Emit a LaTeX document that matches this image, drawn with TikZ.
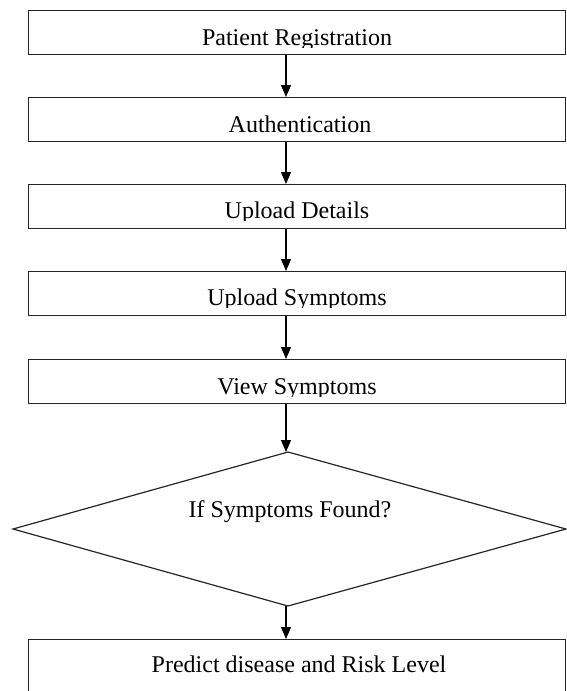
\documentclass[tikz,border=0pt]{standalone}
\usepackage{fontspec}
\setmainfont{Liberation Serif}
\usetikzlibrary{arrows.meta}
\tikzset{
  flowbox/.style={draw=black!85, line width=1.2pt, rectangle, minimum width=537pt, minimum height=44pt, inner sep=0pt, anchor=north west},
  boxtext/.style={font=\fontsize{24}{28}\selectfont, anchor=base, inner sep=0pt},
  flowarrow/.style={draw=black, line width=1.2pt, -{Triangle[length=12pt,width=10pt]}},
}
\begin{document}
\begin{tikzpicture}[x=1pt,y=-1pt]
\useasboundingbox (0,0) rectangle (567,691);
% boxes
\node[flowbox] (b1) at (28,10) {};
\node[flowbox] (b2) at (28,97) {};
\node[flowbox] (b3) at (28,184) {};
\node[flowbox] (b4) at (28,271) {};
\node[flowbox] (b5) at (28,359) {};
\node[flowbox, minimum height=70pt] (b6) at (28,639) {};
% diamond
\coordinate (dt) at (288,452);
\coordinate (db) at (288,606);
\coordinate (dl) at (13,529);
\coordinate (dr) at (566,529);
\draw[draw=black!85, line width=1.2pt] (dt) -- (dr) -- (db) -- (dl) -- cycle;
% texts (clipped at baseline like the reference)
\begin{scope}
\clip (28,10) rectangle (565,47);
\node[boxtext] (t1) at (297,45) {Patient Registration};
\end{scope}
\begin{scope}
\clip (28,97) rectangle (565,134);
\node[boxtext] (t2) at (300,132) {Authentication};
\end{scope}
\begin{scope}
\clip (28,184) rectangle (565,220);
\node[boxtext] (t3) at (297,218) {Upload Details};
\end{scope}
\begin{scope}
\clip (28,271) rectangle (565,307);
\node[boxtext] (t4) at (297,305) {Upload Symptoms};
\end{scope}
\begin{scope}
\clip (28,359) rectangle (565,396);
\node[boxtext] (t5) at (297,394) {View Symptoms};
\end{scope}
\node[boxtext] (t7) at (290,517) {If Symptoms Found?};
\node[boxtext] (t6) at (299,672) {Predict disease and Risk Level};
% arrows
\draw[flowarrow] (b1.south -| 286,0) -- (b2.north -| 286,0);
\draw[flowarrow] (b2.south -| 286,0) -- (b3.north -| 286,0);
\draw[flowarrow] (b3.south -| 286,0) -- (b4.north -| 286,0);
\draw[flowarrow] (b4.south -| 286,0) -- (b5.north -| 286,0);
\draw[flowarrow] (b5.south -| 286,0) -- (dt -| 286,0);
\draw[flowarrow] (db -| 286,0) -- (b6.north -| 286,0);
\end{tikzpicture}
\end{document}
